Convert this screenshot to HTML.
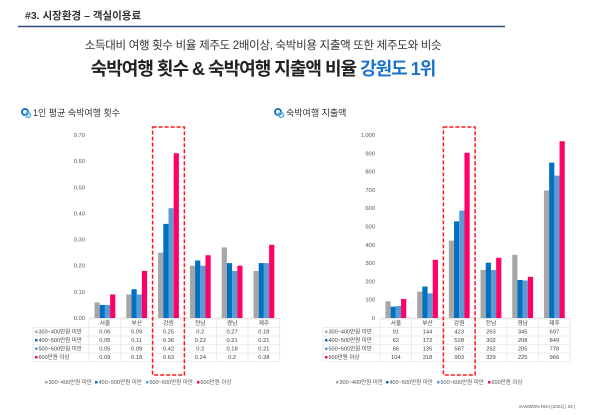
<!DOCTYPE html><html><head><meta charset="utf-8"><style>
html,body{margin:0;padding:0;background:#fff;width:600px;height:415px;overflow:hidden}
svg{display:block;font-family:"Liberation Sans","Noto Sans CJK KR",sans-serif}
</style></head><body>
<svg id="s" width="600" height="415" viewBox="0 0 600 415">
<text x="25" y="19" font-size="10.5" fill="#333" font-weight="bold">#3. 시장환경 – 객실이용료</text>
<line x1="18" y1="26.5" x2="505" y2="26.5" stroke="#2f4a7a" stroke-width="1.5"/>
<text x="263" y="49" font-size="11.5" fill="#333" text-anchor="middle" letter-spacing="-0.3">소득대비 여행 횟수 비율 제주도 2배이상, 숙박비용 지출액 또한 제주도와 비슷</text>
<text x="263" y="75" font-size="18" fill="#222" font-weight="bold" text-anchor="middle" letter-spacing="-1">숙박여행 횟수 &amp; 숙박여행 지출액 비율 <tspan fill="#1a73c8">강원도 1위</tspan></text>
<g font-size="9" fill="#333"><circle cx="25" cy="112" r="3" fill="none" stroke="#1f78c8" stroke-width="2"/><circle cx="28" cy="115" r="2.5" fill="none" stroke="#56b0d8" stroke-width="1.5"/><text x="33" y="116">1인 평균 숙박여행 횟수</text>
<circle cx="278" cy="112" r="3" fill="none" stroke="#1f78c8" stroke-width="2"/><circle cx="281" cy="115" r="2.5" fill="none" stroke="#56b0d8" stroke-width="1.5"/><text x="286" y="116">숙박여행 지출액</text></g>
<text x="575" y="408" font-size="4.5" fill="#555" text-anchor="end">SAMWON RDA [2021]  | 29 |</text>
</svg>
<script>
var s=document.getElementById('s'),NS='http://www.w3.org/2000/svg';
function el(t,a,txt){var e=document.createElementNS(NS,t);for(var k in a)e.setAttribute(k,a[k]);if(txt!=null)e.textContent=txt;s.appendChild(e);return e;}
var cols=['#a6a6a6','#0070c0','#5b9bd5','#ff0066'];
var names=['300~400만원 미만','400~500만원 미만','500~600만원 미만','600만원 이상'];
var cats=['서울','부산','강원','전남','경남','제주'];
function chart(o){
 var y0=318,y1=135;
 o.ticks.forEach(function(t,i){var y=y0-(y0-y1)*i/(o.ticks.length-1);el('text',{x:o.lx,y:y+2,'font-size':5.8,fill:'#555','text-anchor':'end'},t);});
 el('line',{x1:o.cx,y1:y0,x2:o.cx+6*o.cw,y2:y0,stroke:'#ddd','stroke-width':0.7});
 var bw=5.2;
 for(var c=0;c<6;c++)for(var k=0;k<4;k++){var v=o.data[k][c];var h=(y0-y1)*v/o.max;
  el('rect',{x:o.cx+c*o.cw+(o.cw-4*bw)/2+k*bw,y:y0-h,width:bw,height:h,fill:cols[k]});}
 var ty=319,rh=8.5;
 var tl=o.tl;
 for(var r=0;r<=5;r++){var yy=ty+r*rh;el('line',{x1:r==0?o.cx:tl,y1:yy,x2:o.cx+6*o.cw,y2:yy,stroke:'#ddd','stroke-width':0.6});}
 el('line',{x1:tl,y1:ty+rh,x2:tl,y2:ty+5*rh,stroke:'#ddd','stroke-width':0.6});
 for(var c=0;c<=6;c++)el('line',{x1:o.cx+c*o.cw,y1:ty,x2:o.cx+c*o.cw,y2:ty+5*rh,stroke:'#ddd','stroke-width':0.6});
 cats.forEach(function(n,c){el('text',{x:o.cx+c*o.cw+o.cw/2,y:ty+6,'font-size':5.8,fill:'#444','text-anchor':'middle'},n);});
 for(var k=0;k<4;k++){var yy=ty+(k+1)*rh;
  el('rect',{x:tl+2,y:yy+3,width:2.5,height:2.5,fill:cols[k]});
  el('text',{x:tl+5.5,y:yy+6,'font-size':5.5,fill:'#444'},names[k]);
  for(var c=0;c<6;c++)el('text',{x:o.cx+c*o.cw+o.cw/2,y:yy+6,'font-size':5.8,fill:'#444','text-anchor':'middle'},o.lab[k][c]);}
 var lx=o.legx;[0,50,101,152].forEach(function(d,k){el('rect',{x:lx+d,y:381,width:2.5,height:2.5,fill:cols[k]});el('text',{x:lx+d+3.5,y:384,'font-size':5.5,fill:'#555'},names[k]);});
 el('rect',{x:o.cx+2*o.cw,y:127,width:o.cw,height:248,fill:'none',stroke:'#ff1a1a','stroke-width':1.5,'stroke-dasharray':'4,2'});
}
var d1=[[.06,.09,.25,.2,.27,.18],[.05,.11,.36,.22,.21,.21],[.05,.09,.42,.2,.18,.21],[.09,.18,.63,.24,.2,.28]];
var d2=[[91,144,423,263,345,697],[62,172,528,302,208,849],[66,135,587,262,205,778],[104,318,903,329,225,966]];
chart({lx:85,cx:89,cw:31.8,tl:33,max:.7,data:d1,lab:d1,legx:45,ticks:['0.00','0.10','0.20','0.30','0.40','0.50','0.60','0.70']});
chart({lx:375,cx:380,cw:31.7,tl:323,max:1000,data:d2,lab:d2,legx:336,ticks:['0','100','200','300','400','500','600','700','800','900','1,000']});
</script>
</body></html>
